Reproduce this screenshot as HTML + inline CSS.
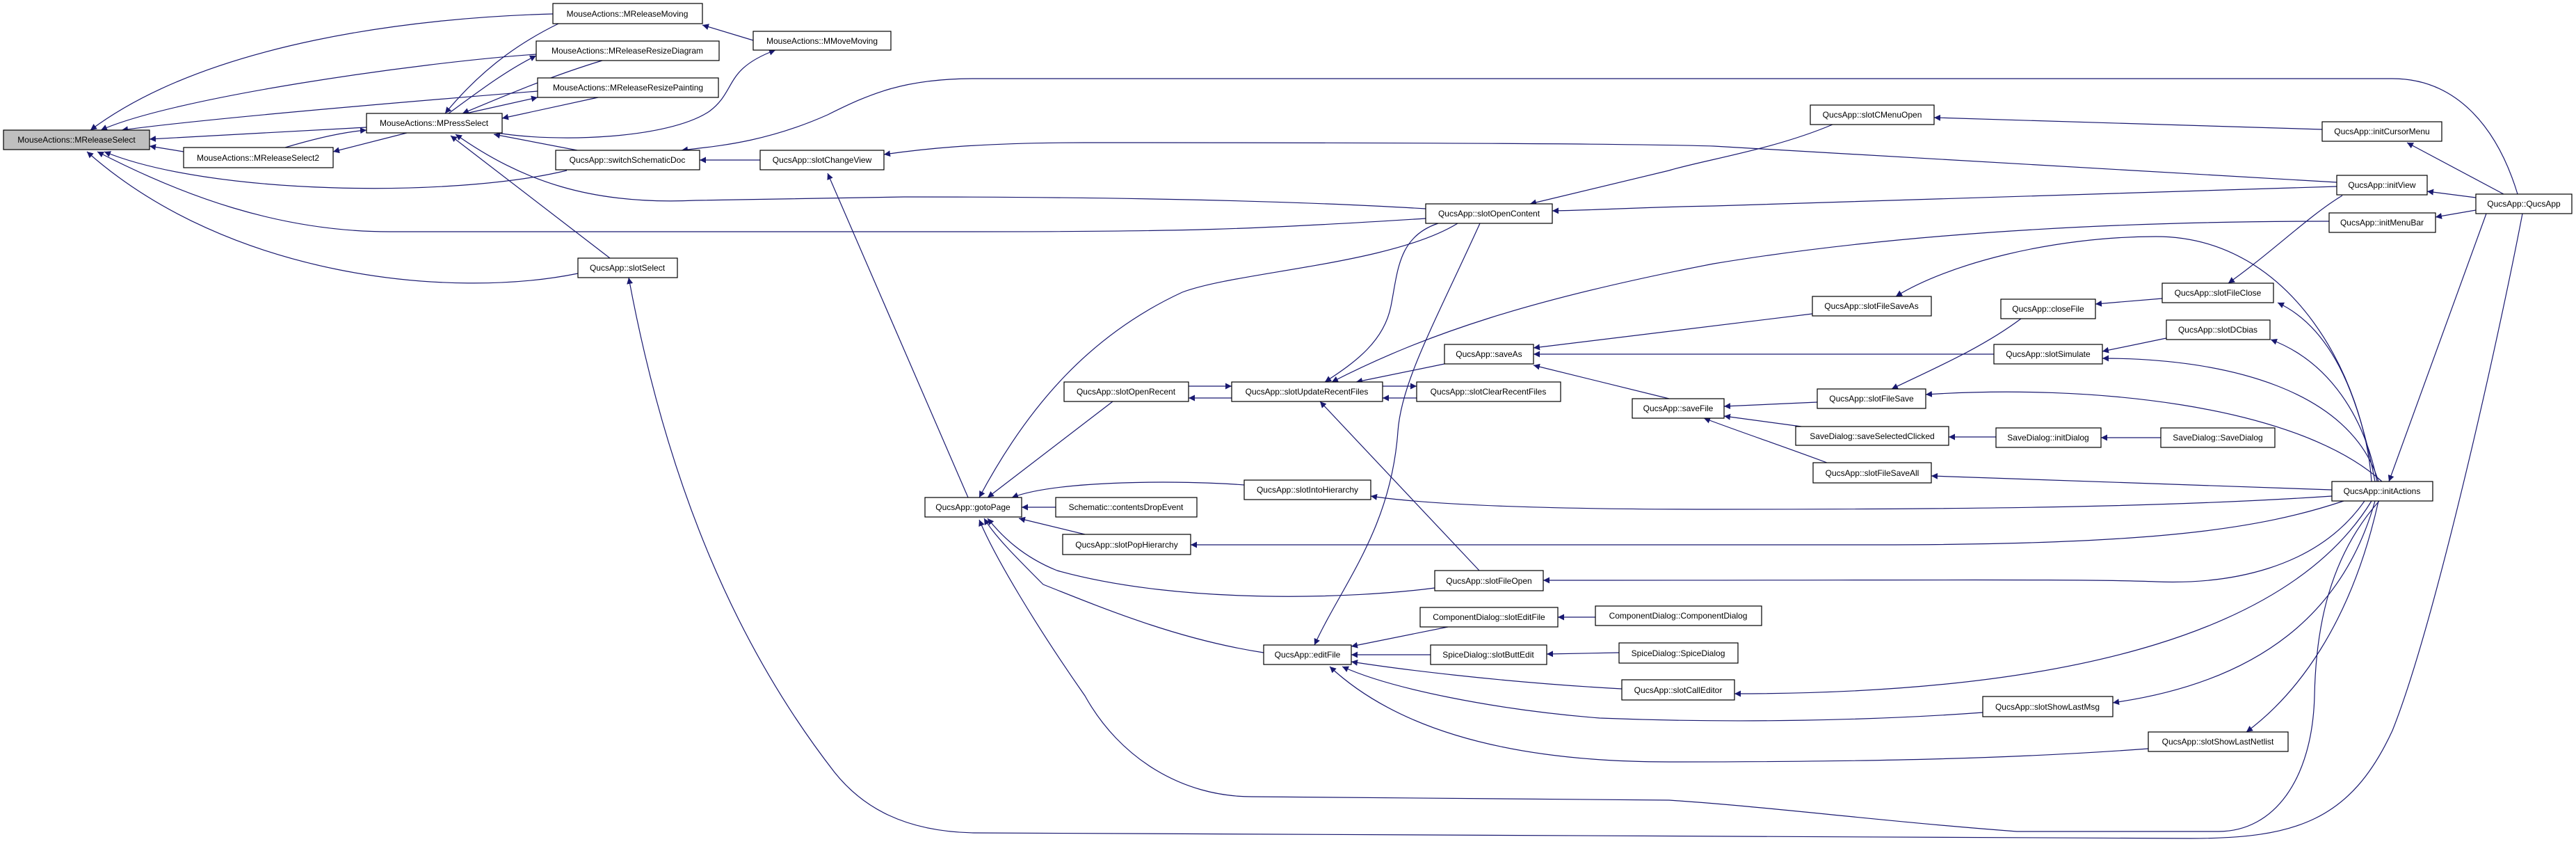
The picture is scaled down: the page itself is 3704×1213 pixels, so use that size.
<!DOCTYPE html>
<html><head><meta charset="utf-8"><style>
html,body{margin:0;padding:0;background:#fff;}
svg{display:block;}
text{font-family:"Liberation Sans",Arial,sans-serif;font-size:12px;fill:#000;}
.n{fill:#fff;stroke:#000;stroke-width:1.2;}
.e{fill:none;stroke:#191970;stroke-width:1.2;marker-end:url(#ah);}
</style></head><body>
<svg width="3704" height="1213" viewBox="0 0 3704 1213" xmlns="http://www.w3.org/2000/svg">
<defs>
<marker id="ah" viewBox="0 0 10 10" refX="10" refY="5" markerWidth="9" markerHeight="9" markerUnits="userSpaceOnUse" orient="auto">
<path d="M0,0 L10,5 L0,10 z" fill="#191970"/>
</marker>
</defs>
<g>
<path class="e" d="M795,20 C600,25 300,60 130,187"/>
<path class="e" d="M771,78 C600,90 250,140 145,187"/>
<path class="e" d="M773,131 C600,145 300,170 175,187"/>
<path class="e" d="M527,183 L215,200"/>
<path class="e" d="M264,218 L215,210"/>
<path class="e" d="M815,245 C650,285 300,280 150,218"/>
<path class="e" d="M2050,314 C1800,330 1700,333 1400,333 L560,333 C400,333 260,280 140,218"/>
<path class="e" d="M831,393 C650,430 330,400 125,218"/>
<path class="e" d="M2050,300 C1800,285 1500,283 1300,283 L1000,288 C850,295 750,260 655,193"/>
<path class="e" d="M803,34 C760,55 700,90 640,163"/>
<path class="e" d="M645,163 C690,130 730,100 771,80"/>
<path class="e" d="M866,87 C790,110 720,140 665,163"/>
<path class="e" d="M670,163 L773,140"/>
<path class="e" d="M860,140 L722,170"/>
<path class="e" d="M410,212 C450,200 490,190 527,187"/>
<path class="e" d="M585,191 L479,218"/>
<path class="e" d="M715,191 C800,205 960,200 1020,160 C1060,130 1040,100 1115,72"/>
<path class="e" d="M1083,58 L1010,36"/>
<path class="e" d="M830,216 L710,193"/>
<path class="e" d="M877,371 L648,195"/>
<path class="e" d="M1093,230 L1006,230"/>
<path class="e" d="M3620,279 C3590,180 3530,113 3440,113 L1400,113 C1300,113 1250,135 1190,165 C1100,205 1030,210 980,216"/>
<path class="e" d="M1392,715 L1190,249"/>
<path class="e" d="M3360,262 L2464,210 C2300,205 1700,205 1560,205 C1400,205 1320,215 1271,222"/>
<path class="e" d="M3360,268 L2464,296 C2350,298 2300,302 2232,303"/>
<path class="e" d="M2635,179 C2550,215 2450,230 2400,245 L2200,293"/>
<path class="e" d="M3339,186 L2781,169"/>
<path class="e" d="M3600,279 L3461,205"/>
<path class="e" d="M3560,284 L3490,275"/>
<path class="e" d="M3560,302 L3502,312"/>
<path class="e" d="M3349,318 C3000,318 2700,340 2464,379 C2200,430 2050,480 1915,549"/>
<path class="e" d="M3368,281 C3320,310 3270,360 3204,407"/>
<path class="e" d="M3109,429 L3013,437"/>
<path class="e" d="M2906,458 C2850,500 2780,530 2720,559"/>
<path class="e" d="M3115,486 L3023,505"/>
<path class="e" d="M2867,509 L2205,509"/>
<path class="e" d="M2606,451 L2205,500"/>
<path class="e" d="M3410,692 C3400,550 3300,340 3100,340 C2950,340 2800,380 2726,426"/>
<path class="e" d="M3415,692 C3390,560 3350,470 3275,435"/>
<path class="e" d="M3418,692 C3400,600 3350,520 3265,488"/>
<path class="e" d="M3420,692 C3380,560 3200,515 3023,515"/>
<path class="e" d="M3425,692 C3300,580 3000,552 2769,567"/>
<path class="e" d="M3575,307 L3435,692"/>
<path class="e" d="M2077,523 L1950,549"/>
<path class="e" d="M2400,573 L2205,525"/>
<path class="e" d="M2613,578 L2479,584"/>
<path class="e" d="M2590,613 L2479,598"/>
<path class="e" d="M2627,665 C2560,640 2500,620 2450,601"/>
<path class="e" d="M2870,628 L2802,628"/>
<path class="e" d="M3107,629 L3021,629"/>
<path class="e" d="M3353,704 L2777,684"/>
<path class="e" d="M2068,321 C2010,340 2010,390 2000,440 C1990,490 1950,520 1905,549"/>
<path class="e" d="M2096,321 C2000,380 1780,390 1700,420 C1570,480 1480,580 1408,715"/>
<path class="e" d="M2128,321 C2060,470 2015,550 2010,620 C2000,760 1930,840 1890,927"/>
<path class="e" d="M1709,555 L1771,555"/>
<path class="e" d="M1771,572 L1709,572"/>
<path class="e" d="M1988,555 L2037,555"/>
<path class="e" d="M2037,572 L1988,572"/>
<path class="e" d="M1600,577 L1420,715"/>
<path class="e" d="M2127,820 L1898,577"/>
<path class="e" d="M1789,697 C1700,690 1520,690 1455,715"/>
<path class="e" d="M1518,729 L1469,729"/>
<path class="e" d="M1560,768 L1465,745"/>
<path class="e" d="M2063,845 C1950,860 1700,870 1520,820 C1470,800 1440,770 1420,745"/>
<path class="e" d="M1817,938 C1700,920 1600,880 1500,840 C1460,800 1430,770 1415,745"/>
<path class="e" d="M3421,720 C3350,800 3330,900 3328,1000 C3325,1120 3270,1195 3190,1195 L2900,1195 C2700,1180 2550,1160 2400,1150 L1800,1145 C1700,1145 1610,1090 1560,1000 C1490,900 1430,800 1408,747"/>
<path class="e" d="M3627,307 C3590,500 3500,900 3440,1050 C3380,1180 3300,1205 3150,1205 L1400,1197 C1300,1195 1240,1160 1200,1110 C1060,930 960,700 904,399"/>
<path class="e" d="M2082,901 L1943,929"/>
<path class="e" d="M2057,941 L1943,941"/>
<path class="e" d="M2332,990 C2150,980 2000,960 1943,951"/>
<path class="e" d="M2851,1024 C2700,1035 2500,1040 2300,1032 C2150,1020 2000,990 1930,958"/>
<path class="e" d="M3089,1076 C2900,1090 2700,1095 2400,1095 C2150,1095 2000,1040 1912,958"/>
<path class="e" d="M2294,887 L2240,887"/>
<path class="e" d="M2328,938 L2224,940"/>
<path class="e" d="M3353,713 C3100,730 2800,732 2464,732 C2200,732 2050,725 1971,713"/>
<path class="e" d="M3370,720 C3250,760 3100,783 2700,783 L1712,783"/>
<path class="e" d="M3400,720 C3330,820 3200,840 3100,836 C3000,832 2800,834 2219,834"/>
<path class="e" d="M3410,720 C3300,900 3000,997 2494,997"/>
<path class="e" d="M3415,720 C3370,880 3250,980 3038,1010"/>
<path class="e" d="M3420,720 C3380,900 3300,1000 3230,1052"/>
</g>
<g>
<rect x="5" y="187" width="210" height="28" fill="#bfbfbf" stroke="#000" stroke-width="1.2"/><text x="110" y="205" text-anchor="middle">MouseActions::MReleaseSelect</text>
<rect class="n" x="795" y="5" width="215" height="29"/><text x="902" y="24" text-anchor="middle">MouseActions::MReleaseMoving</text>
<rect class="n" x="771" y="59" width="263" height="28"/><text x="902" y="77" text-anchor="middle">MouseActions::MReleaseResizeDiagram</text>
<rect class="n" x="773" y="112" width="260" height="28"/><text x="903" y="130" text-anchor="middle">MouseActions::MReleaseResizePainting</text>
<rect class="n" x="527" y="163" width="195" height="28"/><text x="624" y="181" text-anchor="middle">MouseActions::MPressSelect</text>
<rect class="n" x="264" y="212" width="215" height="29"/><text x="371" y="231" text-anchor="middle">MouseActions::MReleaseSelect2</text>
<rect class="n" x="1083" y="45" width="198" height="27"/><text x="1182" y="63" text-anchor="middle">MouseActions::MMoveMoving</text>
<rect class="n" x="799" y="216" width="207" height="28"/><text x="902" y="234" text-anchor="middle">QucsApp::switchSchematicDoc</text>
<rect class="n" x="1093" y="216" width="178" height="28"/><text x="1182" y="234" text-anchor="middle">QucsApp::slotChangeView</text>
<rect class="n" x="831" y="371" width="143" height="28"/><text x="902" y="389" text-anchor="middle">QucsApp::slotSelect</text>
<rect class="n" x="2050" y="293" width="182" height="28"/><text x="2141" y="311" text-anchor="middle">QucsApp::slotOpenContent</text>
<rect class="n" x="2077" y="495" width="128" height="28"/><text x="2141" y="513" text-anchor="middle">QucsApp::saveAs</text>
<rect class="n" x="1530" y="549" width="179" height="28"/><text x="1619" y="567" text-anchor="middle">QucsApp::slotOpenRecent</text>
<rect class="n" x="1771" y="549" width="217" height="28"/><text x="1879" y="567" text-anchor="middle">QucsApp::slotUpdateRecentFiles</text>
<rect class="n" x="2037" y="549" width="207" height="28"/><text x="2140" y="567" text-anchor="middle">QucsApp::slotClearRecentFiles</text>
<rect class="n" x="2347" y="573" width="132" height="28"/><text x="2413" y="591" text-anchor="middle">QucsApp::saveFile</text>
<rect class="n" x="2603" y="151" width="178" height="28"/><text x="2692" y="169" text-anchor="middle">QucsApp::slotCMenuOpen</text>
<rect class="n" x="3339" y="175" width="172" height="28"/><text x="3425" y="193" text-anchor="middle">QucsApp::initCursorMenu</text>
<rect class="n" x="3360" y="252" width="130" height="28"/><text x="3425" y="270" text-anchor="middle">QucsApp::initView</text>
<rect class="n" x="3560" y="279" width="138" height="28"/><text x="3629" y="297" text-anchor="middle">QucsApp::QucsApp</text>
<rect class="n" x="3349" y="306" width="153" height="28"/><text x="3425" y="324" text-anchor="middle">QucsApp::initMenuBar</text>
<rect class="n" x="2606" y="426" width="171" height="28"/><text x="2691" y="444" text-anchor="middle">QucsApp::slotFileSaveAs</text>
<rect class="n" x="2877" y="430" width="136" height="28"/><text x="2945" y="448" text-anchor="middle">QucsApp::closeFile</text>
<rect class="n" x="3109" y="407" width="160" height="28"/><text x="3189" y="425" text-anchor="middle">QucsApp::slotFileClose</text>
<rect class="n" x="3115" y="460" width="149" height="28"/><text x="3189" y="478" text-anchor="middle">QucsApp::slotDCbias</text>
<rect class="n" x="2867" y="495" width="156" height="28"/><text x="2945" y="513" text-anchor="middle">QucsApp::slotSimulate</text>
<rect class="n" x="2613" y="559" width="156" height="28"/><text x="2691" y="577" text-anchor="middle">QucsApp::slotFileSave</text>
<rect class="n" x="2582" y="613" width="220" height="27"/><text x="2692" y="631" text-anchor="middle">SaveDialog::saveSelectedClicked</text>
<rect class="n" x="2870" y="615" width="151" height="28"/><text x="2945" y="633" text-anchor="middle">SaveDialog::initDialog</text>
<rect class="n" x="3107" y="615" width="164" height="28"/><text x="3189" y="633" text-anchor="middle">SaveDialog::SaveDialog</text>
<rect class="n" x="2607" y="665" width="170" height="29"/><text x="2692" y="684" text-anchor="middle">QucsApp::slotFileSaveAll</text>
<rect class="n" x="3353" y="692" width="145" height="28"/><text x="3425" y="710" text-anchor="middle">QucsApp::initActions</text>
<rect class="n" x="2851" y="1001" width="187" height="29"/><text x="2944" y="1020" text-anchor="middle">QucsApp::slotShowLastMsg</text>
<rect class="n" x="3089" y="1052" width="201" height="28"/><text x="3189" y="1070" text-anchor="middle">QucsApp::slotShowLastNetlist</text>
<rect class="n" x="1330" y="715" width="139" height="28"/><text x="1399" y="733" text-anchor="middle">QucsApp::gotoPage</text>
<rect class="n" x="1518" y="715" width="203" height="28"/><text x="1619" y="733" text-anchor="middle">Schematic::contentsDropEvent</text>
<rect class="n" x="1789" y="690" width="182" height="28"/><text x="1880" y="708" text-anchor="middle">QucsApp::slotIntoHierarchy</text>
<rect class="n" x="1528" y="768" width="184" height="29"/><text x="1620" y="787" text-anchor="middle">QucsApp::slotPopHierarchy</text>
<rect class="n" x="2063" y="820" width="156" height="29"/><text x="2141" y="839" text-anchor="middle">QucsApp::slotFileOpen</text>
<rect class="n" x="2042" y="873" width="198" height="28"/><text x="2141" y="891" text-anchor="middle">ComponentDialog::slotEditFile</text>
<rect class="n" x="1817" y="927" width="126" height="28"/><text x="1880" y="945" text-anchor="middle">QucsApp::editFile</text>
<rect class="n" x="2057" y="927" width="167" height="28"/><text x="2140" y="945" text-anchor="middle">SpiceDialog::slotButtEdit</text>
<rect class="n" x="2294" y="871" width="239" height="28"/><text x="2413" y="889" text-anchor="middle">ComponentDialog::ComponentDialog</text>
<rect class="n" x="2328" y="924" width="171" height="29"/><text x="2413" y="943" text-anchor="middle">SpiceDialog::SpiceDialog</text>
<rect class="n" x="2332" y="977" width="162" height="29"/><text x="2413" y="996" text-anchor="middle">QucsApp::slotCallEditor</text>
</g>
</svg>
</body></html>
